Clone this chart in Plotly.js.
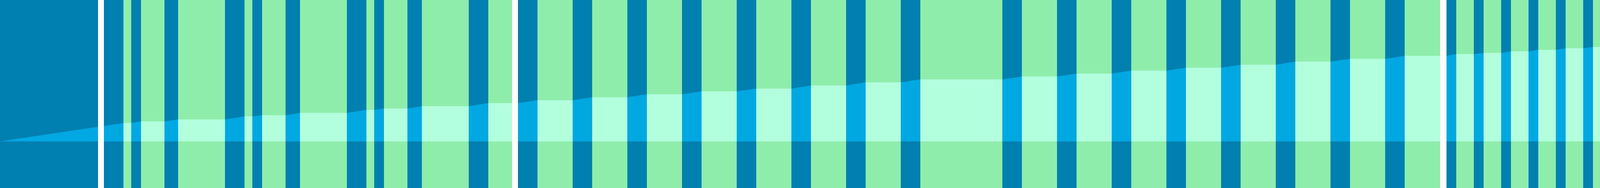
<!DOCTYPE html>
<html>
<head>
<meta charset="utf-8">
<script src="https://cdn.plot.ly/plotly-3.0.1.min.js"></script>
<style>
  html, body { margin: 0; padding: 0; background: #ffffff; }
  #chart { width: 4123px; height: 480px; }
</style>
</head>
<body>
<div id="chart"></div>
<script>
// band edges along the x axis (one more than the number of bands)
var bandEdges = [0, 316, 336, 361, 421, 456, 576, 626, 646, 671,
  731, 768, 888, 938, 958, 983, 1043, 1080, 1200, 1250,
  1326, 1376, 1466, 1516, 1606, 1656, 1746, 1796, 1886, 1936,
  2026, 2076, 2166, 2216, 2306, 2356, 2566, 2616, 2706, 2756,
  2846, 2896, 2986, 3036, 3126, 3176, 3266, 3316, 3406, 3456,
  3546, 3596, 3703, 3728, 3773, 3798, 3843, 3868, 3913, 3938,
  3983, 4008, 4053, 4078, 4123];

// cumulative level read at each edge
var levels = [0, 47, 47, 51, 51, 56, 56, 64, 64, 66.7,
  66.7, 72.7, 72.7, 80.5, 80.5, 84, 84, 89.8, 89.8, 97.8,
  97.8, 105, 105, 112.7, 112.7, 120.2, 120.2, 127.8, 127.8, 134.7,
  134.7, 142.7, 142.7, 150.7, 150.7, 158.2, 158.2, 165.8, 165.8, 173,
  173, 180.7, 180.7, 188, 188, 195.8, 195.8, 203.8, 203.8, 210.8,
  210.8, 218.5, 218.5, 223, 223, 226, 226, 229.8, 229.8, 233.7,
  233.7, 237.8, 237.8, 241, 241];

// band kind: A = active (dark), B = idle (green)
var bandKind = ['A','B','A','B','A','B','A','B','A','B',
  'A','B','A','B','A','B','A','B','A','B',
  'A','B','A','B','A','B','A','B','A','B',
  'A','B','A','B','A','B','A','B','A','B',
  'A','B','A','B','A','B','A','B','A','B',
  'A','B','A','B','A','B','A','B','A','B',
  'A','B','A','B'];

// white breaks between sections
var gapStart = [251, 1311, 3687];
var gapEnd = [266, 1326, 3703];

var bandColor = { A: '#0080b0', B: '#8fedab' };
var fillColor = { A: '#00a8e2', B: '#b2ffde' };

var data = [];
var shapes = [];

for (var i = 0; i < bandKind.length; i++) {
  shapes.push({
    type: 'rect', xref: 'x', yref: 'paper', layer: 'below',
    x0: bandEdges[i], x1: bandEdges[i + 1], y0: 0, y1: 1,
    fillcolor: bandColor[bandKind[i]], line: { width: 0 }
  });
  data.push({
    x: [bandEdges[i], bandEdges[i + 1]],
    y: [levels[i], levels[i + 1]],
    type: 'scatter',
    mode: 'none',
    fill: 'tozeroy',
    fillcolor: fillColor[bandKind[i]],
    hoverinfo: 'skip'
  });
}

for (var g = 0; g < gapStart.length; g++) {
  shapes.push({
    type: 'rect', xref: 'x', yref: 'paper', layer: 'above',
    x0: gapStart[g], x1: gapEnd[g], y0: 0, y1: 1,
    fillcolor: '#ffffff', line: { width: 0 }
  });
}

var layout = {
  width: 4123,
  height: 480,
  showlegend: false,
  margin: { l: 0, r: 0, t: 0, b: 0, pad: 0 },
  paper_bgcolor: '#ffffff',
  plot_bgcolor: '#ffffff',
  xaxis: { range: [0, 4123], visible: false, fixedrange: true },
  yaxis: { range: [-119, 361], visible: false, fixedrange: true },
  shapes: shapes
};

Plotly.newPlot('chart', data, layout, { displayModeBar: false, staticPlot: true });
</script>
</body>
</html>
